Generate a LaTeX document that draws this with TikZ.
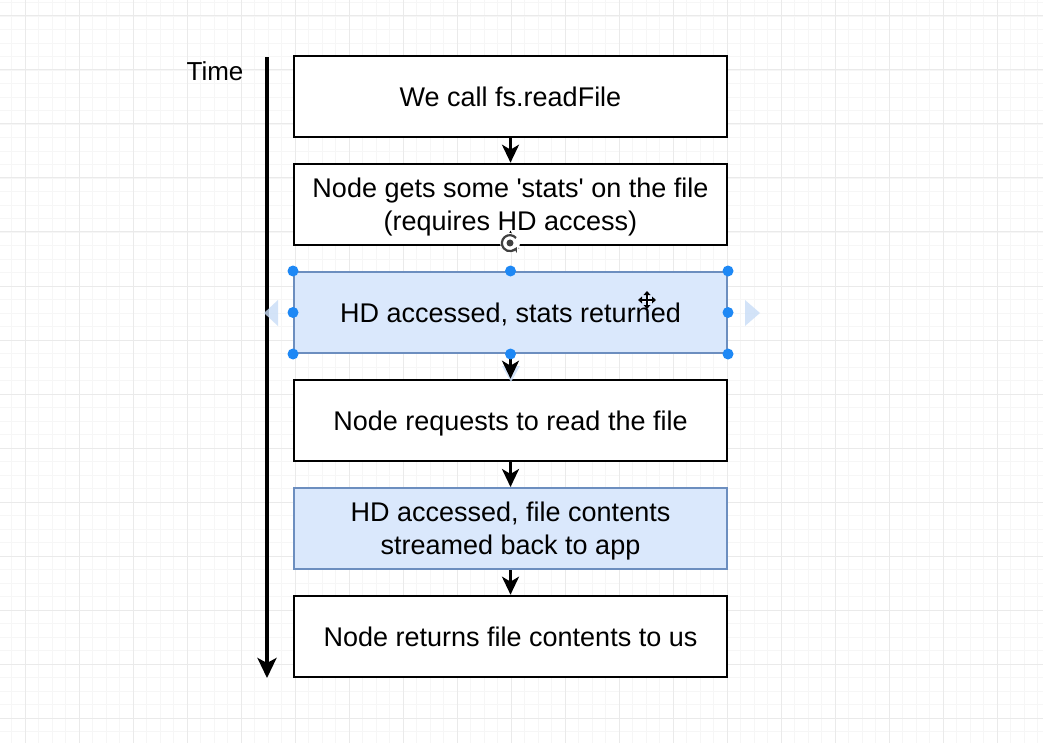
\documentclass[tikz,border=0pt]{standalone}
\usepackage{fontspec}
\setmainfont{Liberation Sans}
\usetikzlibrary{arrows.meta,calc}
\definecolor{gridmajor}{RGB}{234,234,234}
\definecolor{gridminor}{RGB}{246,246,246}
\definecolor{stepfill}{HTML}{DAE8FC}
\definecolor{stepline}{HTML}{6C8EBF}
\definecolor{handle}{RGB}{30,136,245}
\definecolor{hint}{RGB}{200,221,247}
\tikzset{
  stepbox/.style={draw=black, line width=2.6pt, fill=white, minimum width=433pt,
    minimum height=81pt, inner sep=0pt, align=center,
    font=\fontsize{27pt}{33pt}\selectfont},
  hdbox/.style={stepbox, draw=stepline, line width=2pt, fill=stepfill},
  flow/.style={line width=3pt, -{Stealth[length=18pt, width=17pt, inset=5pt]}},
  grip/.style={circle, fill=handle, inner sep=0pt, minimum size=11pt},
}
% set the label a little lower than the box centre, keeping its nominal size
\newcommand{\lowered}[1]{\raisebox{-3pt}[\height][\depth]{\begin{tabular}{@{}c@{}}#1\end{tabular}}}
\begin{document}
\begin{tikzpicture}[x=1pt, y=-1pt]
  \useasboundingbox (0,0) rectangle (1043,743);
  \fill[white] (0,0) rectangle (1043,743);
  % background grid
  \foreach \gx in {-2.0,11.5,...,1043} \draw[gridminor, line width=0.7pt] (\gx,0) -- (\gx,743);
  \foreach \gy in {2.5,16,...,743} \draw[gridminor, line width=0.7pt] (0,\gy) -- (1043,\gy);
  \foreach \gx in {25,79,...,1043} \draw[gridmajor, line width=1pt] (\gx,0) -- (\gx,743);
  \foreach \gy in {16,70,...,743} \draw[gridmajor, line width=1pt] (0,\gy) -- (1043,\gy);

  % time axis
  \node[font=\fontsize{26pt}{30pt}\selectfont] (time) at (215,71) {Time};
  \coordinate (t0) at (267,57);
  \coordinate (t1) at (267,678);
  \draw[line width=3.5pt, -{Stealth[length=20pt, width=19pt, inset=5pt]}] (t0) -- (t1);

  % steps
  \node[stepbox] (s1) at (510.5,96.5) {\lowered{We call fs.readFile}};
  \node[stepbox] (s2) at (510.5,204.5) {\lowered{Node gets some \textquotesingle stats\textquotesingle{} on the file\\(requires HD access)}};
  \node[hdbox]   (s3) at (510.5,312.5) {\lowered{HD accessed, stats returned}};
  \node[stepbox] (s4) at (510.5,420.5) {\lowered{Node requests to read the file}};
  \node[hdbox]   (s5) at (510.5,528.5) {\lowered{HD accessed, file contents\\streamed back to app}};
  \node[stepbox] (s6) at (510.5,636.5) {\lowered{Node returns file contents to us}};

  % faint connection hints around the selected step
  \fill[hint, opacity=0.8] (502,366) -- (520,366) -- (511,382) -- cycle;
  \fill[hint, opacity=0.8] (278,300) -- (278,326) -- (264,313) -- cycle;
  \fill[hint, opacity=0.8] (745,300) -- (745,326) -- (760,313) -- cycle;

  \draw[flow] (s1) -- (s2);
  \draw[flow] (s2) -- ++(0,26);
  \draw[flow] (s3) -- (s4);
  \draw[flow] (s4) -- (s5);
  \draw[flow] (s5) -- (s6);

  % selection handles of the third step
  \foreach \a in {north west, north, north east, west, east, south west, south, south east}
    \node[grip] at (s3.\a) {};

  % rotate grip
  \coordinate (rot) at (510,243);
  \fill[white] (rot) circle (10pt);
  \draw[black!75, line width=2.2pt, -{Stealth[length=5pt,width=6pt]}] ($(rot)+(6,-5)$) arc[start angle=40, end angle=330, radius=8pt];
  \fill[black!75] (rot) circle (3.5pt);

  % move cursor
  \begin{scope}[shift={(647,300)}]
    \draw[white, line width=3pt] (-8,0) -- (8,0) (0,-8) -- (0,8);
    \draw[black, line width=1.6pt] (-6,0) -- (6,0) (0,-6) -- (0,6);
    \fill[black] (-9,0) -- (-5,-3.5) -- (-5,3.5) -- cycle;
    \fill[black] (9,0) -- (5,-3.5) -- (5,3.5) -- cycle;
    \fill[black] (0,-9) -- (-3.5,-5) -- (3.5,-5) -- cycle;
    \fill[black] (0,9) -- (-3.5,5) -- (3.5,5) -- cycle;
  \end{scope}
\end{tikzpicture}
\end{document}
